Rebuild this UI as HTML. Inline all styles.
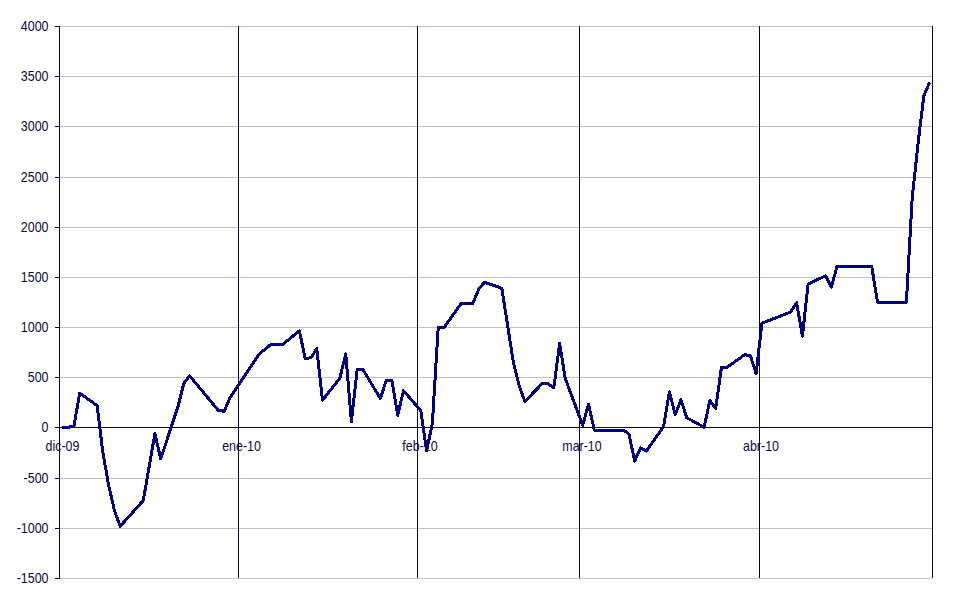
<!DOCTYPE html>
<html lang="es">
<head>
<meta charset="utf-8">
<title>Gráfico</title>
<style>
html,body{margin:0;padding:0;background:#fff;}
body{width:970px;height:604px;overflow:hidden;}
svg{display:block;}
text{font-family:"Liberation Sans",Arial,sans-serif;font-size:13.9px;fill:#0a0a3c;}
</style>
</head>
<body>
<svg width="970" height="604" viewBox="0 0 970 604">
<rect x="0" y="0" width="970" height="604" fill="#ffffff"/>
<g shape-rendering="crispEdges">
<rect x="60" y="26" width="872" height="1" fill="#c0c0c0"/>
<rect x="60" y="76" width="872" height="1" fill="#c0c0c0"/>
<rect x="60" y="126" width="872" height="1" fill="#c0c0c0"/>
<rect x="60" y="177" width="872" height="1" fill="#c0c0c0"/>
<rect x="60" y="227" width="872" height="1" fill="#c0c0c0"/>
<rect x="60" y="277" width="872" height="1" fill="#c0c0c0"/>
<rect x="60" y="327" width="872" height="1" fill="#c0c0c0"/>
<rect x="60" y="377" width="872" height="1" fill="#c0c0c0"/>
<rect x="60" y="478" width="872" height="1" fill="#c0c0c0"/>
<rect x="60" y="528" width="872" height="1" fill="#c0c0c0"/>
<rect x="60" y="578" width="872" height="1" fill="#c0c0c0"/>
<rect x="59" y="26" width="1" height="553" fill="#04043f"/>
<rect x="238" y="26" width="1" height="552" fill="#04043f"/>
<rect x="417" y="26" width="1" height="552" fill="#04043f"/>
<rect x="579" y="26" width="1" height="552" fill="#04043f"/>
<rect x="759" y="26" width="1" height="552" fill="#04043f"/>
<rect x="932" y="26" width="1" height="552" fill="#04043f"/>
<rect x="55" y="427" width="878" height="1" fill="#04043f"/>
<rect x="55" y="26" width="5" height="1" fill="#04043f"/>
<rect x="55" y="76" width="5" height="1" fill="#04043f"/>
<rect x="55" y="126" width="5" height="1" fill="#04043f"/>
<rect x="55" y="177" width="5" height="1" fill="#04043f"/>
<rect x="55" y="227" width="5" height="1" fill="#04043f"/>
<rect x="55" y="277" width="5" height="1" fill="#04043f"/>
<rect x="55" y="327" width="5" height="1" fill="#04043f"/>
<rect x="55" y="377" width="5" height="1" fill="#04043f"/>
<rect x="55" y="427" width="5" height="1" fill="#04043f"/>
<rect x="55" y="478" width="5" height="1" fill="#04043f"/>
<rect x="55" y="528" width="5" height="1" fill="#04043f"/>
<rect x="55" y="578" width="5" height="1" fill="#04043f"/>
</g>
<polyline points="62.4,427.5 68.2,427.3 74.0,425.8 79.7,393.1 97.1,405.6 102.9,452.8 108.6,485.0 114.4,510.4 120.2,526.3 143.3,500.5 154.9,433.5 160.7,458.8 178.0,406.6 183.8,383.4 189.6,375.8 218.5,410.6 224.3,411.2 230.0,397.6 259.0,354.1 270.5,344.8 282.1,344.8 299.4,330.9 305.2,358.7 311.0,357.7 316.8,348.7 322.5,400.2 339.9,378.1 345.7,353.8 351.4,421.8 357.2,369.7 363.0,369.7 380.4,398.5 386.1,380.7 391.9,380.7 397.7,415.4 403.5,390.6 420.8,410.7 426.6,451.0 432.4,423.0 438.2,327.6 443.9,327.6 461.3,303.3 472.9,303.3 478.6,289.4 484.4,282.3 501.8,288.2 513.3,362.0 519.1,385.5 524.9,401.5 542.2,383.6 548.0,383.6 553.8,388.0 559.6,343.4 565.3,378.6 582.7,425.3 588.5,404.3 594.3,430.0 623.2,430.0 628.9,434.0 634.7,461.0 640.5,447.9 646.3,451.1 663.6,426.6 669.4,391.9 675.2,414.7 681.0,399.8 686.7,417.7 704.1,427.2 709.9,400.5 715.7,408.4 721.4,367.7 727.2,367.3 744.6,354.8 750.3,355.4 756.1,373.6 761.9,323.3 790.8,311.9 796.6,302.6 802.4,336.2 808.1,284.1 825.5,275.8 831.3,287.0 837.1,266.3 871.7,266.3 877.5,302.3 906.4,302.3 912.2,198.0 918.0,144.0 923.8,96.0 929.5,82.4" fill="none" stroke="#000080" stroke-width="3" stroke-linejoin="round" stroke-linecap="butt" shape-rendering="crispEdges"/>
<text transform="translate(48.5,30.6) scale(0.8957,1)" text-anchor="end">4000</text>
<text transform="translate(48.5,80.6) scale(0.8957,1)" text-anchor="end">3500</text>
<text transform="translate(48.5,130.6) scale(0.8957,1)" text-anchor="end">3000</text>
<text transform="translate(48.5,181.6) scale(0.8957,1)" text-anchor="end">2500</text>
<text transform="translate(48.5,231.6) scale(0.8957,1)" text-anchor="end">2000</text>
<text transform="translate(48.5,281.6) scale(0.8957,1)" text-anchor="end">1500</text>
<text transform="translate(48.5,331.6) scale(0.8957,1)" text-anchor="end">1000</text>
<text transform="translate(48.5,381.6) scale(0.8957,1)" text-anchor="end">500</text>
<text transform="translate(48.5,431.6) scale(0.8957,1)" text-anchor="end">0</text>
<text transform="translate(48.5,482.6) scale(0.8957,1)" text-anchor="end">-500</text>
<text transform="translate(48.5,532.6) scale(0.8957,1)" text-anchor="end">-1000</text>
<text transform="translate(48.5,582.6) scale(0.8957,1)" text-anchor="end">-1500</text>
<text transform="translate(62.5,451) scale(0.8957,1)" text-anchor="middle">dic-09</text>
<text transform="translate(241.5,451) scale(0.8957,1)" text-anchor="middle">ene-10</text>
<text transform="translate(420,451) scale(0.8957,1)" text-anchor="middle">feb-10</text>
<text transform="translate(582,451) scale(0.8957,1)" text-anchor="middle">mar-10</text>
<text transform="translate(761,451) scale(0.8957,1)" text-anchor="middle">abr-10</text>
</svg>
</body>
</html>
